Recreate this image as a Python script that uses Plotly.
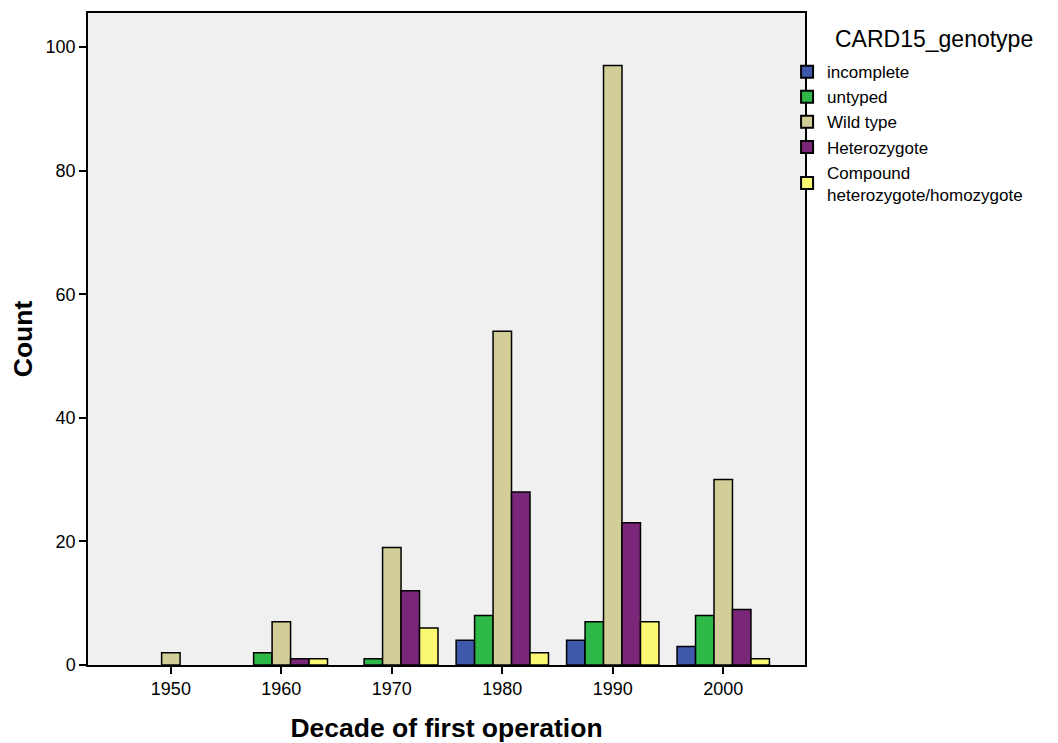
import plotly.graph_objects as go

decades = ["1950", "1960", "1970", "1980", "1990", "2000"]
series_names = ["incomplete", "untyped", "Wild type", "Heterozygote",
                "Compound<br>heterozygote/homozygote"]
legend_title = "CARD15_genotype"
incomplete = [None, None, None, 4, 4, 3]
untyped = [None, 2, 1, 8, 7, 8]
wild_type = [2, 7, 19, 54, 97, 30]
heterozygote = [None, 1, 12, 28, 23, 9]
compound = [None, 1, 6, 2, 7, 1]
colors = ["#3E58AC", "#2EB848", "#D3CE97", "#7B2779", "#FBF873"]

fig = go.Figure()
for name, vals, col in zip(series_names,
                           [incomplete, untyped, wild_type, heterozygote, compound],
                           colors):
    fig.add_trace(go.Bar(x=decades, y=vals, name=name,
                         marker=dict(color=col, line=dict(color="black", width=1.5))))

fig.update_layout(
    width=1050, height=735,
    margin=dict(l=80, r=253, t=3, b=73),
    paper_bgcolor="white", plot_bgcolor="#F0F0F0",
    barmode="group", bargap=0.164, bargroupgap=0,
    font=dict(family="Liberation Sans, Arial", size=18, color="black"),
    legend=dict(x=0.975, xanchor="left", y=0.937, yanchor="top",
                font=dict(size=17), itemsizing="constant",
                tracegroupgap=0, bgcolor="rgba(0,0,0,0)"),
    showlegend=True,
    annotations=[dict(text=legend_title, xref="paper", yref="paper",
                      x=1.18, y=0.96, xanchor="center", yanchor="middle",
                      showarrow=False, font=dict(size=23))],
)
fig.update_xaxes(type="category", range=[-0.75, 5.74],
                 showline=True, linecolor="black", linewidth=1.5, mirror=True,
                 ticks="outside", ticklen=7, tickwidth=2, tickcolor="black",
                 showgrid=False, zeroline=False,
                 title=dict(text="<b>Decade of first operation</b>", font=dict(size=26.5), standoff=22),
                 tickfont=dict(size=18))
fig.update_yaxes(range=[0, 105.5], tickvals=[0, 20, 40, 60, 80, 100],
                 showline=True, linecolor="black", linewidth=1.5, mirror=True,
                 ticks="outside", ticklen=7, tickwidth=2, tickcolor="black",
                 showgrid=False, zeroline=False,
                 title=dict(text="<b>Count</b>", font=dict(size=26.5), standoff=14),
                 tickfont=dict(size=18))

fig.write_html("out.html")
